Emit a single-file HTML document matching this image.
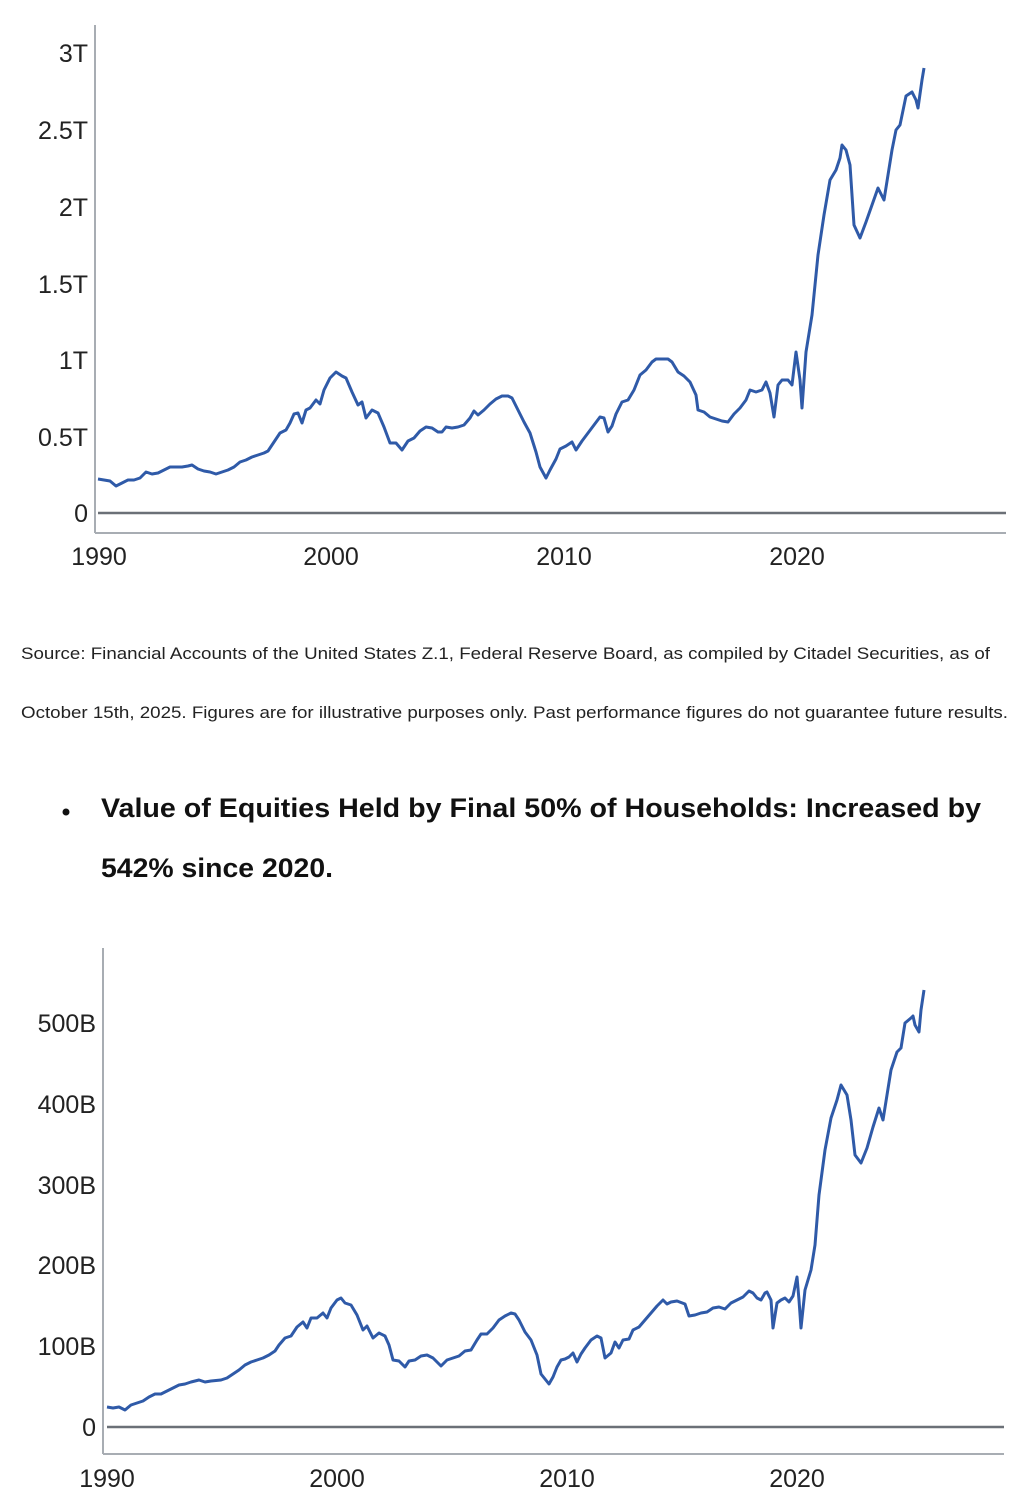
<!DOCTYPE html>
<html><head><meta charset="utf-8"><style>
body{margin:0;background:#fff;width:1034px;height:1508px;overflow:hidden;font-family:"Liberation Sans",sans-serif;}
svg{position:absolute;left:0;top:0}
.t{font-family:"Liberation Sans",sans-serif;fill:#222;font-size:25px}
</style></head><body>
<svg width="1034" height="1508" viewBox="0 0 1034 1508">
<g>
<line x1="95" y1="25" x2="95" y2="533" stroke="#a8adb3" stroke-width="2"/>
<line x1="95" y1="533" x2="1006" y2="533" stroke="#a8adb3" stroke-width="2"/>
<line x1="98" y1="513" x2="1006" y2="513" stroke="#6b7077" stroke-width="2.5"/>
<g class="t" text-anchor="end">
<text x="88" y="62">3T</text><text x="88" y="139">2.5T</text><text x="88" y="216">2T</text>
<text x="88" y="293">1.5T</text><text x="88" y="369">1T</text><text x="88" y="446">0.5T</text><text x="88" y="522">0</text>
</g>
<g class="t" text-anchor="middle">
<text x="99" y="565">1990</text><text x="331" y="565">2000</text><text x="564" y="565">2010</text><text x="797" y="565">2020</text>
</g>
<polyline fill="none" stroke="#2f5aa8" stroke-width="3" stroke-linejoin="round" points="98,479 104,480 110,481 116,486 122,483 128,480 134,480 140,478 146,472 152,474 158,473 164,470 170,467 176,467 182,467 188,466 192,465 198,469 204,471 210,472 216,474 222,472 228,470 234,467 240,462 246,460 252,457 258,455 264,453 268,451 274,442 280,433 286,430 290,423 294,414 298,413 302,423 306,410 310,408 316,400 320,404 324,390 330,378 336,372 342,376 346,378 352,392 358,405 362,402 366,418 372,410 378,413 384,427 390,443 396,443 402,450 408,441 414,438 420,431 426,427 432,428 438,432 442,432 446,427 452,428 458,427 464,425 470,418 474,411 478,415 484,410 490,404 496,399 502,396 508,396 512,398 518,410 524,422 530,433 536,452 540,467 546,478 550,470 556,459 560,449 566,446 572,442 576,450 582,441 588,433 594,425 600,417 604,418 608,432 612,426 616,414 622,402 628,400 634,390 640,375 646,370 652,362 656,359 668,359 672,362 678,372 684,376 690,382 696,395 698,410 704,412 710,417 716,419 722,421 728,422 734,414 740,408 746,400 750,390 756,392 762,390 766,382 770,393 774,417 778,385 782,380 788,380 792,385 796,352 800,380 802,408 806,352 812,315 818,255 824,215 830,180 836,170 840,158 842,145 846,150 850,165 854,225 860,238 866,222 872,205 878,188 884,200 888,175 892,150 896,130 900,125 906,96 912,92 916,100 918,108 922,80 924,68"/>
</g>
<text x="21" y="659" textLength="969" lengthAdjust="spacingAndGlyphs" style="font-size:17px;fill:#222">Source: Financial Accounts of the United States Z.1, Federal Reserve Board, as compiled by Citadel Securities, as of</text>
<text x="21" y="718" textLength="987" lengthAdjust="spacingAndGlyphs" style="font-size:17px;fill:#222">October 15th, 2025. Figures are for illustrative purposes only. Past performance figures do not guarantee future results.</text>
<circle cx="66" cy="812" r="3.5" fill="#111"/>
<text x="101" y="817" textLength="880" lengthAdjust="spacingAndGlyphs" style="font-size:27px;font-weight:bold;fill:#111">Value of Equities Held by Final 50% of Households: Increased by</text>
<text x="101" y="877" textLength="232" lengthAdjust="spacingAndGlyphs" style="font-size:27px;font-weight:bold;fill:#111">542% since 2020.</text>
<g>
<line x1="103" y1="948" x2="103" y2="1454" stroke="#a8adb3" stroke-width="2"/>
<line x1="103" y1="1454" x2="1004" y2="1454" stroke="#a8adb3" stroke-width="2"/>
<line x1="107" y1="1427" x2="1004" y2="1427" stroke="#6b7077" stroke-width="2.5"/>
<g class="t" text-anchor="end">
<text x="96" y="1032">500B</text><text x="96" y="1113">400B</text><text x="96" y="1194">300B</text>
<text x="96" y="1274">200B</text><text x="96" y="1355">100B</text><text x="96" y="1436">0</text>
</g>
<g class="t" text-anchor="middle">
<text x="107" y="1487">1990</text><text x="337" y="1487">2000</text><text x="567" y="1487">2010</text><text x="797" y="1487">2020</text>
</g>
<polyline fill="none" stroke="#2f5aa8" stroke-width="3" stroke-linejoin="round" points="107,1407 113,1408 119,1407 125,1410 131,1405 137,1403 143,1401 149,1397 155,1394 161,1394 167,1391 173,1388 179,1385 185,1384 191,1382 199,1380 205,1382 211,1381 221,1380 227,1378 233,1374 239,1370 245,1365 251,1362 257,1360 263,1358 269,1355 275,1351 279,1345 285,1338 291,1336 297,1327 303,1322 307,1328 311,1318 317,1318 323,1313 327,1318 331,1308 337,1300 341,1298 345,1303 351,1305 357,1315 363,1330 367,1326 373,1338 379,1333 385,1336 389,1345 393,1360 399,1361 405,1367 409,1361 415,1360 421,1356 427,1355 433,1358 441,1366 447,1360 453,1358 459,1356 465,1351 471,1350 477,1340 481,1334 487,1334 493,1328 499,1320 505,1316 511,1313 515,1314 519,1320 525,1332 531,1340 537,1355 541,1374 549,1384 553,1377 557,1367 561,1360 565,1359 569,1357 573,1353 577,1362 581,1354 585,1348 591,1340 597,1336 601,1338 605,1358 611,1353 615,1342 619,1348 623,1340 629,1339 633,1330 639,1327 645,1320 651,1313 657,1306 663,1300 667,1304 671,1302 677,1301 685,1304 689,1316 695,1315 701,1313 707,1312 713,1308 719,1307 725,1309 731,1303 737,1300 743,1297 749,1291 753,1293 757,1298 761,1300 765,1293 767,1292 771,1300 773,1328 777,1303 781,1300 785,1298 789,1302 793,1296 797,1277 799,1300 801,1328 805,1290 811,1270 815,1245 819,1195 825,1150 831,1118 837,1100 841,1085 847,1095 851,1120 855,1155 861,1163 867,1148 873,1127 879,1108 883,1120 887,1095 891,1070 897,1052 901,1048 905,1023 911,1018 913,1016 915,1025 919,1032 921,1010 924,990"/>
</g>
</svg>
</body></html>
